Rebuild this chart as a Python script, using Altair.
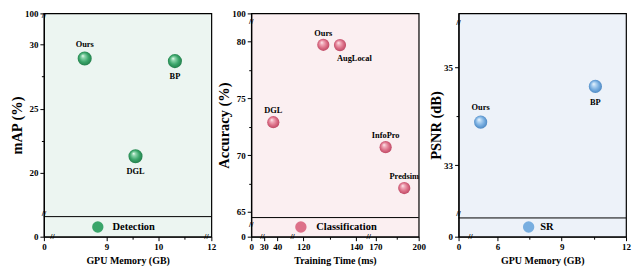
import math
import altair as alt
import pandas as pd

FONT = "Liberation Serif"

# ------------------------------------------------------------------ data
tasks = ["Detection", "Classification", "SR"]

det_methods = ["Ours", "BP", "DGL"]
det_memory = [8.58, 10.32, 9.56]
det_map = [28.9, 28.7, 21.3]
det_side = ["above", "below", "below"]

cls_methods = ["Ours", "AugLocal", "DGL", "InfoPro", "Predsim"]
cls_time = [127.6, 133.9, 37.1, 177.1, 190.0]
cls_acc = [79.72, 79.69, 72.9, 70.7, 67.1]
cls_side = ["above", "below-right", "above", "above", "above"]

sr_methods = ["Ours", "BP"]
sr_memory = [5.22, 10.57]
sr_psnr = [33.88, 34.61]
sr_side = ["above", "below"]

det_xticks, det_xminor = [0, 9, 10, 12], [9.5, 10.5]
det_yticks, det_yminor = [0, 20, 25, 30, 100], [22.5, 27.5]
cls_xticks, cls_xminor = [0, 30, 40, 120, 140, 170, 200], [130, 185]
cls_yticks, cls_yminor = [0, 65, 70, 75, 80, 100], [67.5, 72.5, 77.5]
sr_xticks, sr_xminor = [0, 6, 9, 12], [7.5, 10.5]
sr_yticks, sr_yminor = [0, 33, 35], [34]

# ------------------------------------------------------------------ layout
W, H = 168, 224
REF_W, REF_H, REF_TOP = 174.0, 236.0, 4.5
SX, SY = W / REF_W, H / REF_H


def sphere(hi, light, main, edge):
    return {
        "gradient": "radial",
        "stops": [
            {"offset": 0.0, "color": hi},
            {"offset": 0.22, "color": light},
            {"offset": 0.6, "color": main},
            {"offset": 1.0, "color": edge},
        ],
        "x1": 0.36, "y1": 0.3, "r1": 0.0,
        "x2": 0.5, "y2": 0.5, "r2": 0.55,
    }


def make_axis(major, minor, title):
    minor_js = "[" + ",".join(str(v) for v in minor) + "]"
    test = f"indexof({minor_js}, datum.value) >= 0"
    return alt.Axis(
        values=sorted(major + minor), title=title,
        labelExpr=f"{test} ? '' : datum.label",
        tickSize={"condition": {"test": test, "value": 2.5}, "value": 4},
    )


def panel(methods, xs_, ys_, sides, xdom, xpix, ydom, ypix, xticks, xminor, yticks, yminor,
          xtitle, ytitle, bg, grad, color, size, task, marker, label_gap,
          strip, xbreaks, ybreaks, up_dy, down_dy):
    left = xpix[0]
    xscale = alt.Scale(domain=xdom, range=[(p - left) * SX for p in xpix],
                       zero=False, nice=False)
    yscale = alt.Scale(domain=ydom, range=[(p - REF_TOP) * SY for p in ypix],
                       zero=False, nice=False)
    X = alt.X("x:Q", scale=xscale, axis=make_axis(xticks, xminor, xtitle))
    Y = alt.Y("y:Q", scale=yscale, axis=make_axis(yticks, yminor, ytitle))

    df = pd.DataFrame({"method": methods, "x": xs_, "y": ys_, "side": sides})
    pts = alt.Chart(df).mark_circle(fill=grad, size=size, opacity=1, strokeWidth=0).encode(x=X, y=Y)

    tstyle = dict(font=FONT, fontWeight="bold", fontSize=8.4, color="black", baseline="middle")
    above = alt.Chart(df).transform_filter(alt.datum.side == "above").mark_text(
        dy=up_dy * SY, **tstyle).encode(x=X, y=Y, text="method:N")
    below = alt.Chart(df).transform_filter(alt.datum.side == "below").mark_text(
        dy=down_dy * SY, **tstyle).encode(x=X, y=Y, text="method:N")
    below_r = alt.Chart(df).transform_filter(alt.datum.side == "below-right").mark_text(
        dy=down_dy * SY, dx=15 * SX, **tstyle).encode(x=X, y=Y, text="method:N")

    rule = alt.Chart(pd.DataFrame({"y": [strip]})).mark_rule(
        color="black", strokeWidth=1).encode(y=Y)

    brk = pd.DataFrame({
        "x": list(xbreaks) + [xdom[0]] * len(ybreaks),
        "y": [ydom[0]] * len(xbreaks) + list(ybreaks),
    })
    breaks = alt.Chart(brk).mark_text(
        text="//", font="Liberation Sans", fontSize=8, color="black",
        baseline="middle", align="center").encode(x=X, y=Y)

    sym = 130
    d = math.sqrt(sym)
    cx = (marker[0] - left) * SX
    cy = (marker[1] - REF_TOP) * SY
    leg = alt.Chart(pd.DataFrame({"task": [task]})).mark_circle(opacity=0, size=1).encode(
        color=alt.Color("task:N", scale=alt.Scale(domain=[task], range=[color]),
                        legend=alt.Legend(
                            orient="none", legendX=cx - d / 2, legendY=cy - d / 2,
                            title=None, padding=0, symbolType="circle", symbolSize=sym,
                            symbolStrokeWidth=0, symbolOpacity=1, symbolFillColor=color,
                            labelFont=FONT, labelFontWeight="bold", labelFontSize=10.5,
                            labelColor="black", labelOffset=label_gap * SX - d / 2,
                        )))

    return alt.layer(rule, breaks, pts, above, below, below_r, leg).properties(
        width=W, height=H,
        view=alt.ViewBackground(fill=bg, stroke="black", strokeWidth=1.2),
    )


green = sphere("#f4fff8", "#8fd6ad", "#3aa56a", "#1f7846")
pink = sphere("#fff4f6", "#f2b3c0", "#dd7189", "#b9435f")
blue = sphere("#f6fbff", "#bcdaf4", "#78aee0", "#4682be")

p1 = panel(det_methods, det_memory, det_map, det_side,
           xdom=[0, 7.96, 10.93, 12], xpix=[31, 40, 200, 205],
           ydom=[0, 16.6, 32.2, 100], ypix=[240.5, 219.3, 7.4, 4.5],
           xticks=det_xticks, xminor=det_xminor, yticks=det_yticks, yminor=det_yminor,
           xtitle="GPU Memory (GB)", ytitle="mAP (%)", bg="#ecf5f1",
           grad=green, color="#3aa56a", size=200, task=tasks[0],
           marker=(86.7, 230), label_gap=15, strip=16.6,
           xbreaks=[7.96, 10.93], ybreaks=[16.8, 32.2], up_dy=-15.5, down_dy=16)

p2 = panel(cls_methods, cls_time, cls_acc, cls_side,
           xdom=[0, 30, 40, 120, 140, 170, 200], xpix=[246, 259, 273, 300, 355, 375, 420],
           ydom=[0, 64.5, 81.75, 100], ypix=[240.5, 220.3, 13.3, 4.5],
           xticks=cls_xticks, xminor=cls_xminor, yticks=cls_yticks, yminor=cls_yminor,
           xtitle="Training Time (ms)", ytitle="Accuracy (%)", bg="#fbeff1",
           grad=pink, color="#dd7189", size=150, task=tasks[1],
           marker=(297.3, 230), label_gap=15.7, strip=64.5,
           xbreaks=[27, 87.4, 159.5], ybreaks=[40, 81.75], up_dy=-12.5, down_dy=14)

p3 = panel(sr_methods, sr_memory, sr_psnr, sr_side,
           xdom=[0, 4.75, 12], xpix=[461.5, 474, 635.5],
           ydom=[0, 31.92, 35.9, 40], ypix=[240.5, 220.7, 15, 4.5],
           xticks=sr_xticks, xminor=sr_xminor, yticks=sr_yticks, yminor=sr_yminor,
           xtitle="GPU Memory (GB)", ytitle="PSNR (dB)", bg="#edf2f9",
           grad=blue, color="#78aee0", size=175, task=tasks[2],
           marker=(534, 230), label_gap=11.7, strip=31.92,
           xbreaks=[4.75], ybreaks=[32.0, 35.9], up_dy=-16, down_dy=17)

chart = alt.hconcat(p1, p2, p3, spacing=40, bounds="flush").resolve_scale(
    x="independent", y="independent", color="independent"
).properties(
    padding={"left": 0, "top": 0, "right": 0, "bottom": 0},
    background="white",
).configure_axis(
    labelFont=FONT, labelFontWeight="bold", labelFontSize=9, labelColor="black",
    titleFont=FONT, titleFontWeight="bold", titleColor="black",
    domainColor="black", domainWidth=1.2, tickColor="black", tickWidth=1,
    grid=False, labelFlush=False, labelOverlap=False, tickSize=4, labelPadding=2,
).configure_axisX(titleFontSize=10, titlePadding=4).configure_axisY(
    titleFontSize=14.5, titlePadding=0
)

chart.save("out.html", embed_options={"renderer": "svg", "actions": False})
